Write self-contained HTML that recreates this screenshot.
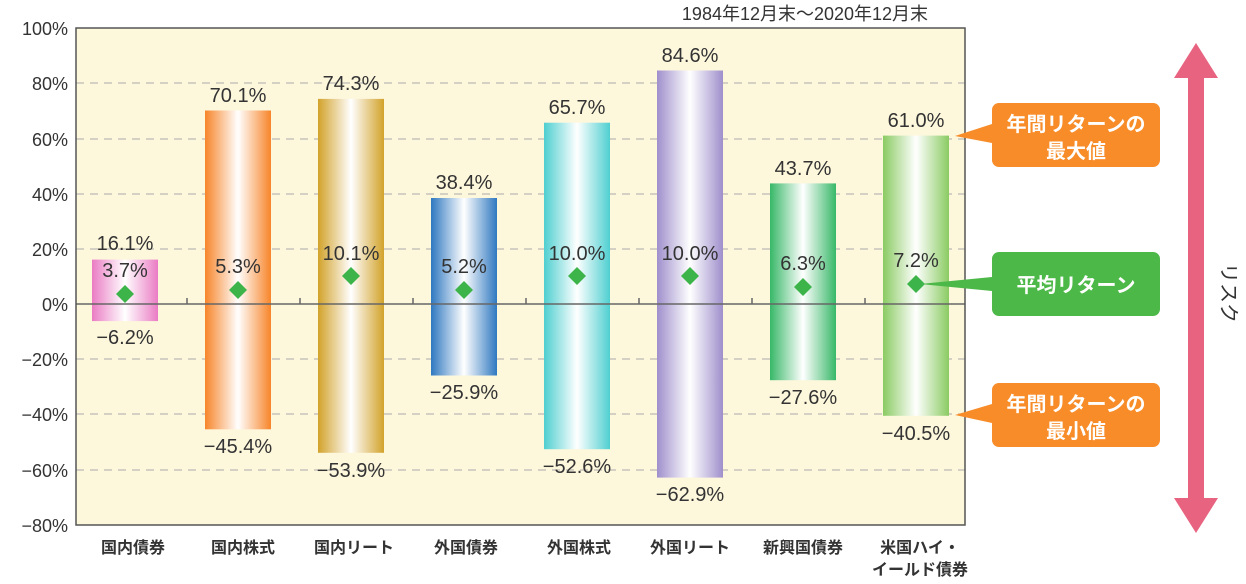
<!DOCTYPE html>
<html><head><meta charset="utf-8"><style>
body{margin:0;background:#fff;}
svg{display:block;font-family:"Liberation Sans","Noto Sans CJK JP",sans-serif;}
</style></head><body>
<svg width="1246" height="584" viewBox="0 0 1246 584">
<defs>
<linearGradient id="g1"><stop offset="0" stop-color="#ea7cc4"/><stop offset=".5" stop-color="#fff"/><stop offset="1" stop-color="#ea7cc4"/></linearGradient>
<linearGradient id="g2"><stop offset="0" stop-color="#f7852a"/><stop offset=".5" stop-color="#fff"/><stop offset="1" stop-color="#f7852a"/></linearGradient>
<linearGradient id="g3"><stop offset="0" stop-color="#d2a22a"/><stop offset=".5" stop-color="#fff"/><stop offset="1" stop-color="#d2a22a"/></linearGradient>
<linearGradient id="g4"><stop offset="0" stop-color="#2f78c0"/><stop offset=".5" stop-color="#fff"/><stop offset="1" stop-color="#2f78c0"/></linearGradient>
<linearGradient id="g5"><stop offset="0" stop-color="#4fcfd0"/><stop offset=".5" stop-color="#fff"/><stop offset="1" stop-color="#4fcfd0"/></linearGradient>
<linearGradient id="g6"><stop offset="0" stop-color="#9f8fcc"/><stop offset=".5" stop-color="#fff"/><stop offset="1" stop-color="#9f8fcc"/></linearGradient>
<linearGradient id="g7"><stop offset="0" stop-color="#38b868"/><stop offset=".5" stop-color="#fff"/><stop offset="1" stop-color="#38b868"/></linearGradient>
<linearGradient id="g8"><stop offset="0" stop-color="#8acb62"/><stop offset=".5" stop-color="#fff"/><stop offset="1" stop-color="#8acb62"/></linearGradient>
</defs>
<rect x="76" y="28" width="889" height="497" fill="#fdf7dc"/>
<g stroke="#aaa" stroke-dasharray="8,6" stroke-width="1">
<line x1="76" x2="965" y1="83" y2="83"/><line x1="76" x2="965" y1="139" y2="139"/>
<line x1="76" x2="965" y1="194" y2="194"/><line x1="76" x2="965" y1="249" y2="249"/>
<line x1="76" x2="965" y1="359" y2="359"/><line x1="76" x2="965" y1="414" y2="414"/>
<line x1="76" x2="965" y1="470" y2="470"/>
</g>
<g font-size="18" fill="#333" text-anchor="end">
<text x="68" y="35">100%</text><text x="68" y="90">80%</text><text x="68" y="146">60%</text>
<text x="68" y="201">40%</text><text x="68" y="256">20%</text><text x="68" y="311">0%</text>
<text x="68" y="366">−20%</text><text x="68" y="421">−40%</text><text x="68" y="477">−60%</text><text x="68" y="532">−80%</text>
</g>
<rect x="92" y="259.6" width="66" height="61.5" fill="url(#g1)"/>
<rect x="205" y="110.5" width="66" height="318.8" fill="url(#g2)"/>
<rect x="318" y="98.9" width="66" height="353.9" fill="url(#g3)"/>
<rect x="431" y="198" width="66" height="177.5" fill="url(#g4)"/>
<rect x="544" y="122.7" width="66" height="326.5" fill="url(#g5)"/>
<rect x="657" y="70.5" width="66" height="407.1" fill="url(#g6)"/>
<rect x="770" y="183.4" width="66" height="196.8" fill="url(#g7)"/>
<rect x="883" y="135.6" width="66" height="280.2" fill="url(#g8)"/>
<line x1="76" x2="965" y1="304" y2="304" stroke="#666" stroke-width="1.5"/>
<g stroke="#666" stroke-width="1.5"><line x1="187" x2="187" y1="298" y2="304"/><line x1="300" x2="300" y1="298" y2="304"/><line x1="413" x2="413" y1="298" y2="304"/><line x1="526" x2="526" y1="298" y2="304"/><line x1="639" x2="639" y1="298" y2="304"/><line x1="752" x2="752" y1="298" y2="304"/><line x1="865" x2="865" y1="298" y2="304"/></g>
<rect x="76" y="28" width="889" height="497" fill="none" stroke="#555" stroke-width="1.5"/>
<g fill="#3cb44a">
<path d="M125 285 l9 9 -9 9 -9 -9z"/><path d="M238 281 l9 9 -9 9 -9 -9z"/><path d="M351 267 l9 9 -9 9 -9 -9z"/><path d="M464 281 l9 9 -9 9 -9 -9z"/>
<path d="M577 267 l9 9 -9 9 -9 -9z"/><path d="M690 267 l9 9 -9 9 -9 -9z"/><path d="M803 278 l9 9 -9 9 -9 -9z"/><path d="M916 275 l9 9 -9 9 -9 -9z"/>
</g>
<g font-size="20" fill="#333" text-anchor="middle">
<text x="125" y="250">16.1%</text><text x="125" y="277">3.7%</text><text x="125" y="344">−6.2%</text>
<text x="238" y="102">70.1%</text><text x="238" y="273">5.3%</text><text x="238" y="453">−45.4%</text>
<text x="351" y="90">74.3%</text><text x="351" y="260">10.1%</text><text x="351" y="477">−53.9%</text>
<text x="464" y="189">38.4%</text><text x="464" y="273">5.2%</text><text x="464" y="399">−25.9%</text>
<text x="577" y="114">65.7%</text><text x="577" y="260">10.0%</text><text x="577" y="473">−52.6%</text>
<text x="690" y="62">84.6%</text><text x="690" y="260">10.0%</text><text x="690" y="501">−62.9%</text>
<text x="803" y="175">43.7%</text><text x="803" y="270">6.3%</text><text x="803" y="404">−27.6%</text>
<text x="916" y="127">61.0%</text><text x="916" y="267">7.2%</text><text x="916" y="440">−40.5%</text>
</g>
<g font-size="16" font-weight="bold" fill="#333" text-anchor="middle">
<text x="133" y="553">国内債券</text><text x="243" y="553">国内株式</text><text x="354" y="553">国内リート</text>
<text x="466" y="553">外国債券</text><text x="579" y="553">外国株式</text><text x="690" y="553">外国リート</text>
<text x="803" y="553">新興国債券</text><text x="920" y="553">米国ハイ・</text><text x="920" y="575">イールド債券</text>
</g>
<text x="805" y="20" font-size="18" fill="#333" text-anchor="middle">1984年12月末～2020年12月末</text>
<g font-size="20" font-weight="bold" fill="#fff" text-anchor="middle">
<path d="M955 136 L992 124 L992 143 Z" fill="#f78c28"/>
<rect x="992" y="103" width="168" height="64" rx="7" fill="#f78c28"/>
<text x="1076" y="131">年間リターンの</text><text x="1076" y="158">最大値</text>
<path d="M920 284 L992 277 L992 291 Z" fill="#4cb848"/>
<rect x="992" y="252" width="168" height="64" rx="7" fill="#4cb848"/>
<text x="1076" y="292">平均リターン</text>
<path d="M955 415 L992 404 L992 423 Z" fill="#f78c28"/>
<rect x="992" y="383" width="168" height="64" rx="7" fill="#f78c28"/>
<text x="1076" y="411">年間リターンの</text><text x="1076" y="438">最小値</text>
</g>
<path d="M1196 43 L1218 78 L1204 78 L1204 498 L1218 498 L1196 533 L1174 498 L1188 498 L1188 78 L1174 78 Z" fill="#e8637f"/>
<text font-size="20" fill="#333" transform="translate(1222,263) rotate(90)">リスク</text>
</svg>
</body></html>
